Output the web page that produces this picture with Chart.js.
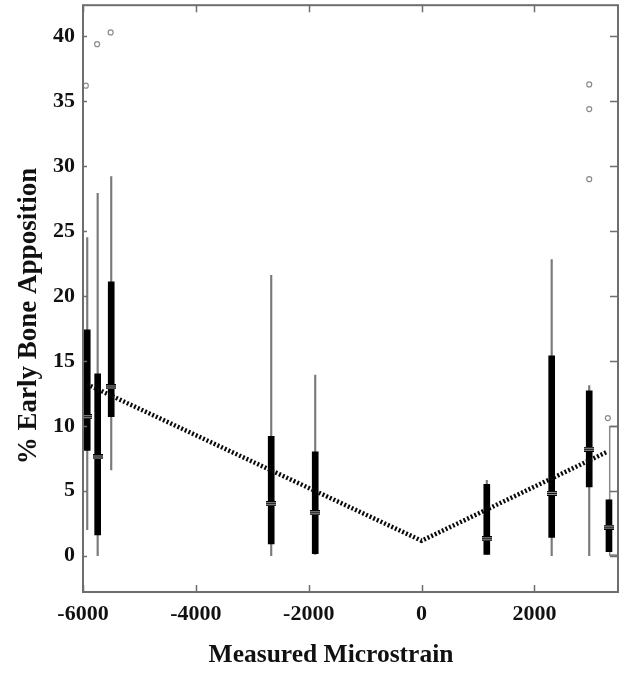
<!DOCTYPE html>
<html>
<head>
<meta charset="utf-8">
<script src="https://cdn.jsdelivr.net/npm/chart.js@4.4.1/dist/chart.umd.min.js"></script>
<style>
  html, body { margin: 0; padding: 0; background: #fff; }
  #wrap { width: 627px; height: 675px; }
</style>
</head>
<body>
<div id="wrap"><canvas id="chart" width="627" height="675"></canvas></div>
<script>
// ==========================================
// Data
// ==========================================
const xTitle = 'Measured Microstrain';
const yTitle = '% Early Bone Apposition';

const xTicks = [-6000, -4000, -2000, 0, 2000];
const yTicks = [0, 5, 10, 15, 20, 25, 30, 35, 40];

// one box per measured site (microstrain on x)
const strain  = [-5925, -5740, -5500, -2665, -1885, 1155, 2305, 2970, 3320];
const whiskLo = [2.0, 0.0, 6.6, 0.0, 0.1, 0.1, 0.0, 0.0, 0.3];
const q1      = [8.1, 1.6, 10.7, 0.9, 0.15, 0.1, 1.4, 5.3, 0.3];
const medians = [10.7, 7.6, 13.0, 4.0, 3.3, 1.3, 4.8, 8.2, 2.2];
const q3      = [17.4, 14.0, 21.1, 9.2, 8.0, 5.5, 15.4, 12.7, 4.3];
const whiskHi = [24.5, 27.9, 29.2, 21.6, 13.9, 5.8, 22.8, 13.1, 4.3];

// outliers (small open circles)
const outlierX = [-5950, -5750, -5510, 2970, 2970, 2970, 3300];
const outlierY = [36.2, 39.4, 40.3, 36.3, 34.4, 29.0, 10.6];

// open box cut off by the right edge
const openBoxX = [3500];
const openBoxLo = [0];
const openBoxHi = [10];

// dotted V-shaped fit
const trendX = [-5930, 0, 3290];
const trendY = [13.2, 1.15, 8.0];

// ==========================================
// Helpers
// ==========================================
// grey "=" mark used for the medians
const medianMark = (() => {
  const c = document.createElement('canvas');
  c.width = 10; c.height = 5;
  const g = c.getContext('2d');
  g.fillStyle = '#000';
  g.fillRect(0, 0, 10, 5);
  g.fillStyle = '#a0a0a0';
  g.fillRect(0, 1, 10, 1);
  g.fillRect(0, 3, 10, 1);
  return c;
})();

// frame on all four sides with inward tick marks
const framePlugin = {
  id: 'frame',
  afterDatasetsDraw(chart) {
    const { ctx, chartArea: a, scales: { x, y } } = chart;
    ctx.save();
    ctx.strokeStyle = '#6e6e6e';
    ctx.lineWidth = 2;
    ctx.strokeRect(a.left, a.top, a.right - a.left, a.bottom - a.top);
    ctx.lineWidth = 1.5;
    ctx.beginPath();
    x.ticks.forEach(t => {
      const px = Math.round(x.getPixelForValue(t.value)) + 0.5;
      ctx.moveTo(px, a.bottom); ctx.lineTo(px, a.bottom - 7);
      ctx.moveTo(px, a.top); ctx.lineTo(px, a.top + 7);
    });
    y.ticks.forEach(t => {
      const py = Math.round(y.getPixelForValue(t.value)) + 0.5;
      ctx.moveTo(a.left, py); ctx.lineTo(a.left + 4, py);
      ctx.moveTo(a.right, py); ctx.lineTo(a.right - 8, py);
    });
    ctx.stroke();
    ctx.restore();
  }
};

// axis titles (placed like in the original, a bit off-centre)
const titlePlugin = {
  id: 'axisTitles',
  afterDraw(chart) {
    const ctx = chart.ctx;
    ctx.save();
    ctx.fillStyle = '#111';
    ctx.textAlign = 'center';
    ctx.textBaseline = 'alphabetic';
    ctx.font = 'bold 25.5px "Liberation Serif", "Times New Roman", serif';
    ctx.fillText(xTitle, 331, 662);
    ctx.font = 'bold 27px "Liberation Serif", "Times New Roman", serif';
    ctx.translate(36, 316);
    ctx.rotate(-Math.PI / 2);
    ctx.fillText(yTitle, 0, 0);
    ctx.restore();
  }
};

const tickFont = { family: '"Liberation Serif", "Times New Roman", serif', size: 22, weight: 'bold' };

// ==========================================
// Chart
// ==========================================
new Chart(document.getElementById('chart'), {
  type: 'bar',
  data: {
    datasets: [
      {
        type: 'line',
        data: trendX.map((x, i) => ({ x, y: trendY[i] })),
        borderColor: '#0a0a0a',
        borderWidth: 4.5,
        borderDash: [2, 2],
        pointRadius: 0,
        fill: false,
        order: 1
      },
      {
        type: 'scatter',
        data: strain.map((x, i) => ({ x, y: medians[i] })),
        pointStyle: medianMark,
        order: 2
      },
      {
        type: 'scatter',
        data: outlierX.map((x, i) => ({ x, y: outlierY[i] })),
        pointStyle: 'circle',
        pointRadius: 2.5,
        borderColor: '#8a8a8a',
        backgroundColor: 'rgba(0,0,0,0)',
        borderWidth: 1.2,
        order: 2
      },
      {
        data: strain.map((x, i) => ({ x, y: [q1[i], q3[i]] })),
        backgroundColor: '#000',
        barThickness: 6,
        grouped: false,
        order: 3
      },
      {
        data: strain.map((x, i) => ({ x, y: [whiskLo[i], whiskHi[i]] })),
        backgroundColor: '#7a7a7a',
        barThickness: 1.5,
        grouped: false,
        order: 4
      },
      {
        data: openBoxX.map((x, i) => ({ x, y: [openBoxLo[i], openBoxHi[i]] })),
        backgroundColor: 'rgba(0,0,0,0)',
        borderColor: '#8a8a8a',
        borderWidth: 1,
        borderSkipped: false,
        barThickness: 20,
        grouped: false,
        order: 5
      }
    ]
  },
  options: {
    responsive: false,
    animation: false,
    layout: { padding: { top: 5, right: 9, left: 0, bottom: 0 } },
    plugins: {
      legend: { display: false },
      tooltip: { enabled: false }
    },
    scales: {
      x: {
        type: 'linear',
        min: -6000,
        max: 3480,
        offset: false,
        grid: { display: false },
        border: { display: false },
        afterBuildTicks: scale => { scale.ticks = xTicks.map(v => ({ value: v })); },
        afterFit: scale => {
          scale.height = 83;
          scale.paddingLeft = 0;
          scale.paddingRight = 0;
        },
        ticks: {
          color: '#111',
          font: tickFont,
          padding: 1,
          maxRotation: 0,
          callback: v => String(v)
        }
      },
      y: {
        min: -2.8,
        max: 42.4,
        grid: { display: false },
        border: { display: false },
        afterBuildTicks: scale => { scale.ticks = yTicks.map(v => ({ value: v })); },
        afterFit: scale => {
          scale.width = 83;
          scale.paddingTop = 0;
          scale.paddingBottom = 0;
        },
        ticks: {
          color: '#111',
          font: tickFont,
          padding: 0
        }
      }
    }
  },
  plugins: [framePlugin, titlePlugin]
});
</script>
</body>
</html>
